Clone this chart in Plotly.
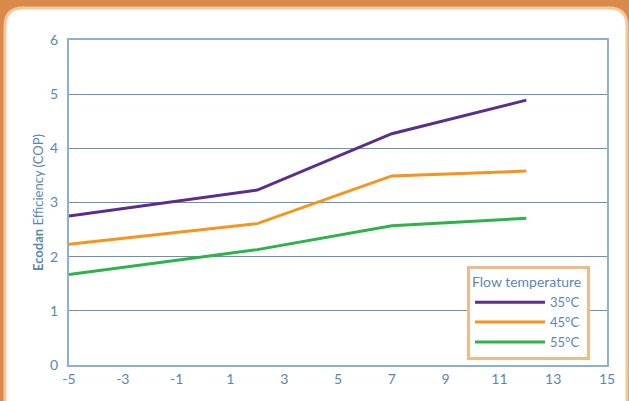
import plotly.graph_objects as go

x_vals = [-5, 2, 7, 12]
cop_35 = [2.75, 3.23, 4.27, 4.89]
cop_45 = [2.23, 2.61, 3.49, 3.58]
cop_55 = [1.67, 2.13, 2.57, 2.71]
series_names = ["35°C", "45°C", "55°C"]
colors = ["#5b2d8e", "#f7941d", "#2db34a"]
x_ticks = [-5, -3, -1, 1, 3, 5, 7, 9, 11, 13, 15]
x_tick_labels = ["-5", "-3", "-1", "1", "3", "5", "7", "9", "11", "13", "15"]
y_ticks = [0, 1, 2, 3, 4, 5, 6]

txt = "#5a86b4"
font_family = "Lato, Open Sans, sans-serif"

W, H = 629, 401
ML, MR, MT, MB = 69, 22, 40, 36
PW, PH = W - ML - MR, H - MT - MB

fig = go.Figure()
for name, ys, c in zip(series_names, [cop_35, cop_45, cop_55], colors):
    fig.add_trace(go.Scatter(x=x_vals, y=ys, mode="lines", name=name,
                             line=dict(color=c, width=3)))

def px(xp): return (xp - ML) / PW
def py(yp): return (H - MB - yp) / PH

# rounded white panel
x0, x1, y0, y1, r = 5, 627, 8, 410, 18
path = (f"M {px(x0+r)},{py(y0)} L {px(x1-r)},{py(y0)} "
        f"Q {px(x1)},{py(y0)} {px(x1)},{py(y0+r)} L {px(x1)},{py(y1)} "
        f"L {px(x0)},{py(y1)} L {px(x0)},{py(y0+r)} "
        f"Q {px(x0)},{py(y0)} {px(x0+r)},{py(y0)} Z")

fig.update_layout(
    width=W, height=H,
    paper_bgcolor="#d9894a",
    plot_bgcolor="rgba(0,0,0,0)",
    margin=dict(l=ML, r=MR, t=MT, b=MB, autoexpand=False),
    font=dict(family=font_family, color=txt, size=14),
    shapes=[dict(type="path", xref="paper", yref="paper", path=path,
                 fillcolor="white", line=dict(color="#f3c89c", width=3), layer="below")],
    xaxis=dict(range=[-5, 15], tickvals=x_ticks, ticktext=x_tick_labels,
               showgrid=False, zeroline=False, automargin=False,
               showline=True, linecolor="#8eb0d0", linewidth=2, mirror=True,
               tickfont=dict(color=txt, size=14), ticks=""),
    yaxis=dict(range=[0, 6], tickvals=y_ticks, showgrid=True, gridcolor="#6b90b8",
               gridwidth=1, zeroline=False, showline=True, linecolor="#8eb0d0",
               linewidth=2, mirror=True, ticks="", ticklabelstandoff=6, automargin=False,
               tickfont=dict(color=txt, size=14),
               title=dict(text="<b>Ecodan</b> Efficiency (COP)", font=dict(size=13, color=txt),
                          standoff=4)),
    legend=dict(x=px(467), y=py(266), xanchor="left", yanchor="top",
                bgcolor="white", bordercolor="#f0b98a", borderwidth=3,
                title=dict(text="Flow temperature ", font=dict(size=14, color=txt)),
                font=dict(size=13, color=txt), itemwidth=70, tracegroupgap=0),
    showlegend=True,
)

fig.write_html("out.html", config={"displayModeBar": False},
               post_script="document.body.style.margin='0';")
